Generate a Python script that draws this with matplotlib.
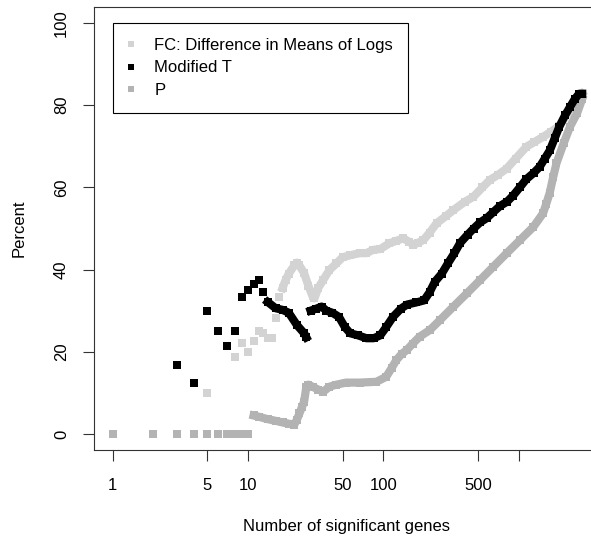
import matplotlib
matplotlib.use("Agg")
import matplotlib.pyplot as plt
from matplotlib.lines import Line2D

plt.rcParams['font.family'] = ['Liberation Sans', 'DejaVu Sans']
plt.rcParams['font.size'] = 12

# --- data (n = number of significant genes, values in %) ---
# FC: Difference in Means of Logs
fc_n_pts = [5, 8, 9, 10, 11, 12, 13, 14, 15, 16, 17]
fc_pts = [10, 18.8, 22.2, 20, 22.7, 25, 24.5, 23.3, 23.3, 28.1, 33.3]
fc_n = [18, 19, 20, 22, 23, 24, 26, 28, 30, 31, 33, 36, 40, 45, 50, 57, 67, 75, 84, 95,
        111, 125, 140, 155, 167, 180, 198, 220, 248, 290, 330, 400, 463, 540, 612, 700,
        817, 950, 1143, 1300, 1516, 1746, 2000, 2300, 2600, 2800, 2950]
fc = [35.5, 37.5, 39.0, 41.0, 41.7, 41.0, 39.1, 36.0, 33.5, 33.0, 35.5, 37.5, 39.9, 41.5,
      43.0, 43.5, 44.0, 44.0, 44.8, 45.0, 46.4, 47.0, 47.6, 46.8, 46.0, 46.5, 47.2, 49.0,
      51.3, 53.0, 54.5, 56.5, 57.7, 60.0, 61.8, 63.0, 64.6, 67.0, 69.9, 71.0, 72.3, 73.6,
      75.0, 78.0, 80.5, 82.0, 82.8]

# Modified T
mt_n_pts = [3, 4, 5, 6, 7, 8, 9, 10, 11, 12, 13]
mt_pts = [16.7, 12.5, 30, 25, 21.4, 25, 33.3, 35, 36.4, 37.5, 34.6]
mt_n_a = [14, 16, 18, 20, 23, 26, 27]
mt_a = [32.1, 30.6, 30.2, 29.5, 26.5, 24.5, 23.5]
mt_n_b = [29, 32, 35, 38, 42, 47, 52, 57, 65, 75, 85, 95, 105, 118, 135, 150, 175, 200,
          220, 240, 270, 300, 335, 370, 420, 465, 520, 580, 650, 730, 820, 910, 1020, 1140,
          1290, 1430, 1560, 1700, 1850, 2000, 2200, 2400, 2600, 2800, 2950]
mt_b = [30.0, 30.5, 31.0, 30.0, 29.5, 28.5, 26.0, 24.5, 24.0, 23.3, 23.3, 24.0, 26.0, 28.5,
        30.5, 31.5, 32.0, 32.5, 34.5, 37.0, 39.0, 41.5, 44.0, 46.5, 48.5, 50.0, 51.5, 52.5,
        54.0, 55.5, 56.5, 58.0, 60.0, 62.0, 63.5, 65.0, 67.0, 69.0, 72.0, 74.8, 77.5, 79.6,
        81.5, 82.8, 82.8]

# P
p_n_pts = [1, 2, 3, 4, 5, 6, 7, 8, 9, 10]
p_pts = [0, 0, 0, 0, 0, 0, 0, 0, 0, 0]
p_n = [11, 12, 14, 16, 18, 20, 22, 23, 24, 25, 26, 27, 28, 30, 33, 36, 40, 45, 53, 67, 89,
       105, 115, 125, 137, 149, 165, 186, 221, 262, 330, 414, 521, 650, 817, 1025, 1286,
       1516, 1600, 1695, 1800, 1905, 2150, 2400, 2700, 2950]
p = [4.5, 4.2, 3.6, 3.2, 2.8, 2.5, 2.3, 3.5, 5.0, 6.5, 7.9, 11.5, 12.0, 11.5, 10.8, 10.3,
     11.5, 12.0, 12.5, 12.5, 12.7, 13.9, 16.0, 18.0, 19.5, 20.4, 22.0, 23.7, 25.3, 27.7,
     31.0, 34.2, 37.5, 40.7, 44.0, 47.2, 50.4, 53.7, 56.0, 58.6, 62.5, 65.9, 70.7, 74.8,
     78.0, 81.5]

labels = ['FC: Difference in Means of Logs', 'Modified T', 'P']
colors = ['#d3d3d3', 'black', '#b3b3b3']

x_ticks = [1, 5, 10, 50, 100, 500, 1000]
x_ticklabels = ['1', '5', '10', '50', '100', '500', '']
y_ticks = [0, 20, 40, 60, 80, 100]

fig = plt.figure(figsize=(5.91, 5.41), dpi=100)
ax = fig.add_axes([94 / 591, 91 / 541, 505 / 591, 443 / 541])

ms = 5.9
band = dict(marker='s', ms=ms, lw=ms, mew=0, solid_joinstyle='round')
dots = dict(marker='s', ms=ms, ls='none', mew=0)

ax.plot(fc_n_pts, fc_pts, color=colors[0], **dots)
ax.plot(fc_n, fc, color=colors[0], **band)
ax.plot(p_n_pts, p_pts, color=colors[2], **dots)
ax.plot(p_n, p, color=colors[2], **band)
ax.plot(mt_n_pts, mt_pts, color=colors[1], **dots)
ax.plot(mt_n_a, mt_a, color=colors[1], **band)
ax.plot(mt_n_b, mt_b, color=colors[1], **band)

ax.set_xscale('log')
ax.set_xlim(10 ** -0.138, 10 ** 3.594)
ax.set_ylim(-3.9, 103.9)
ax.set_xticks(x_ticks)
ax.set_xticklabels(x_ticklabels)
ax.xaxis.set_minor_locator(matplotlib.ticker.NullLocator())
ax.set_yticks(y_ticks)
ax.tick_params(axis='both', direction='out', length=8, width=0.8, color='#333333')
ax.tick_params(axis='x', pad=12)
ax.tick_params(axis='y', pad=10, labelrotation=90)
for lab in ax.get_yticklabels():
    lab.set_va('center')
for s in ax.spines.values():
    s.set_linewidth(0.8)
    s.set_color('#333333')

ax.set_xlabel('Number of significant genes')
ax.xaxis.label.set_va('center')
ax.xaxis.set_label_coords(0.5, -77 / 443)
ax.set_ylabel('Percent')
ax.yaxis.label.set_va('center')
ax.yaxis.set_label_coords(-75 / 505, 0.5)

handles = [Line2D([], [], color=c, marker='s', ls='none', ms=4.8, mew=0) for c in colors]
leg = ax.legend(handles, labels, loc='upper left', bbox_to_anchor=(1, 100),
                bbox_transform=ax.transData, borderaxespad=0, fancybox=False,
                framealpha=1, edgecolor='black', borderpad=0.9, handlelength=0.4,
                handletextpad=1.2, labelspacing=0.44, fontsize=12)
leg.get_frame().set_linewidth(0.8)

fig.savefig('out.png', dpi=100)
